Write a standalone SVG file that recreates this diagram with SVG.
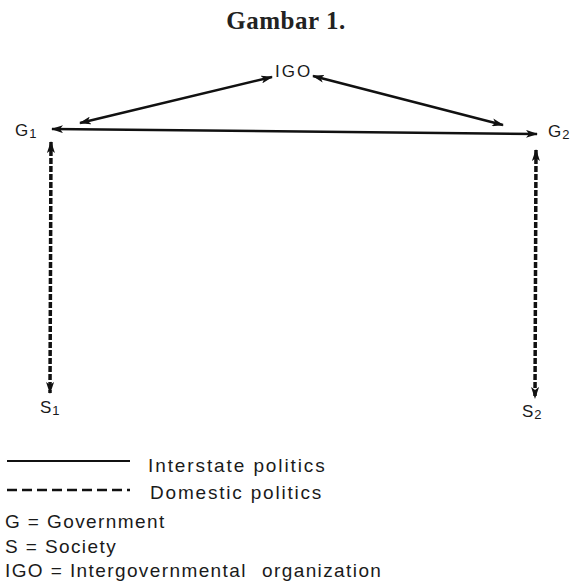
<svg xmlns="http://www.w3.org/2000/svg" width="573" height="587" viewBox="0 0 573 587">
<defs>
<marker id="ah" viewBox="0 0 12 8" refX="11" refY="4" markerWidth="12" markerHeight="8" markerUnits="userSpaceOnUse" orient="auto-start-reverse">
<path d="M0,0 L12,4 L0,8 L3,4 Z" fill="#111"/>
</marker>
</defs>
<style>
.t{font-family:"Liberation Sans",Arial,sans-serif;fill:#1a1a1a}
.n{font-size:17px;letter-spacing:1px}
.lg{font-size:19px;letter-spacing:1.4px}
.sub{font-size:13px}
.solid{stroke:#111;stroke-width:2.5;fill:none}
.dash{stroke:#111;stroke-width:3.5;fill:none;stroke-dasharray:6 2}
</style>
<rect width="573" height="587" fill="#fff"/>
<text x="286" y="29" text-anchor="middle" font-family="'Liberation Serif','Times New Roman',serif" font-weight="bold" font-size="25" letter-spacing="0.5" fill="#222">Gambar 1.</text>
<g id="connectors">
<line class="solid" x1="272" y1="77" x2="80" y2="123" marker-start="url(#ah)" marker-end="url(#ah)"/>
<line class="solid" x1="313" y1="76" x2="503" y2="125" marker-start="url(#ah)" marker-end="url(#ah)"/>
<line class="solid" x1="52" y1="129" x2="537" y2="134" marker-start="url(#ah)" marker-end="url(#ah)"/>
<line class="dash" x1="51" y1="142" x2="50" y2="393" marker-start="url(#ah)" marker-end="url(#ah)"/>
<line class="dash" x1="536" y1="150" x2="535" y2="398" marker-start="url(#ah)" marker-end="url(#ah)"/>
</g>
<g id="IGO"><text class="t n" x="275" y="77" style="letter-spacing:2px">IGO</text></g>
<g id="G1"><text class="t n" x="15" y="136">G<tspan class="sub" dx="0" dy="2">1</tspan></text></g>
<g id="G2"><text class="t n" x="548" y="137">G<tspan class="sub" dx="0" dy="2">2</tspan></text></g>
<g id="S1"><text class="t n" x="40" y="413">S<tspan class="sub" dx="0" dy="2">1</tspan></text></g>
<g id="S2"><text class="t n" x="522" y="417">S<tspan class="sub" dx="0" dy="2">2</tspan></text></g>
<g id="legend">
<line class="solid" x1="7" y1="461" x2="130" y2="461" style="stroke-width:2"/>
<line x1="7" y1="490" x2="130" y2="490" stroke="#111" stroke-width="2.5" stroke-dasharray="10 5"/>
<text class="t lg" x="148" y="472" style="letter-spacing:1.9px">Interstate politics</text>
<text class="t lg" x="150" y="499" style="letter-spacing:1.8px">Domestic politics</text>
<text class="t lg" x="5" y="528">G = Government</text>
<text class="t lg" x="5" y="553">S = Society</text>
<text class="t lg" x="5" y="577">IGO = Intergovernmental</text>
<text class="t lg" x="262" y="577">organization</text>
</g>
</svg>
